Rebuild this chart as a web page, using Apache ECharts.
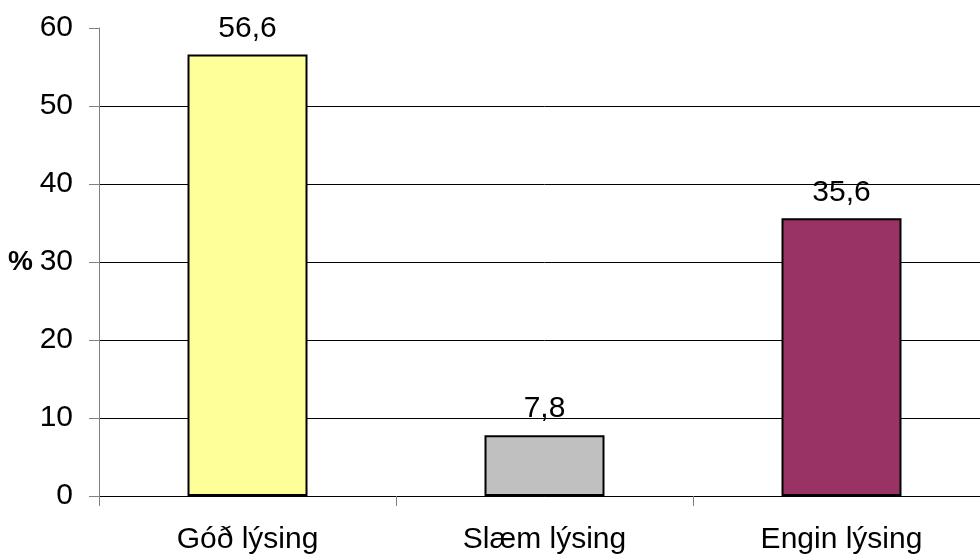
<!DOCTYPE html>
<html>
<head>
<meta charset="utf-8">
<script src="https://cdn.jsdelivr.net/npm/echarts@6/dist/echarts.min.js"></script>
<style>
  html, body { margin: 0; padding: 0; background: #fff; overflow: hidden; }
  /* the plot area continues slightly past the visible right edge */
  #chart { width: 990px; height: 560px; }
</style>
</head>
<body>
<div id="chart"></div>
<script>
// Lighting categories and their shares (%)
const categories = ['Góð lýsing', 'Slæm lýsing', 'Engin lýsing'];
const values = [56.6, 7.8, 35.6];
const barColors = ['#FFFF99', '#C0C0C0', '#993366'];
const yTicks = [0, 10, 20, 30, 40, 50, 60];

const FONT = '"Liberation Sans", Arial, sans-serif';

const chart = echarts.init(document.getElementById('chart'), null, { renderer: 'canvas' });

chart.setOption({
  animation: false,
  backgroundColor: '#ffffff',
  grid: { left: 99, top: 28, bottom: 64, right: 0, containLabel: false },
  xAxis: {
    type: 'category',
    data: categories,
    boundaryGap: true,
    axisLine: { show: true, lineStyle: { color: '#000', width: 1 } },
    axisTick: { show: true, alignWithLabel: false, length: 10, lineStyle: { color: '#808080' } },
    axisLabel: { color: '#000', fontFamily: FONT, fontSize: 30, margin: 29 },
    splitLine: { show: false }
  },
  yAxis: {
    type: 'value',
    min: yTicks[0],
    max: yTicks[yTicks.length - 1],
    interval: yTicks[1] - yTicks[0],
    name: '%',
    nameLocation: 'middle',
    nameRotate: 0,
    nameGap: 66,
    nameTextStyle: { color: '#000', fontFamily: FONT, fontSize: 28, fontWeight: 'bold' },
    axisLine: { show: true, lineStyle: { color: '#808080', width: 1 } },
    axisTick: { show: true, inside: false, length: 10, lineStyle: { color: '#808080' } },
    axisLabel: { color: '#000', fontFamily: FONT, fontSize: 30, margin: 26 },
    splitLine: { show: true, showMaxLine: false, lineStyle: { color: '#000', width: 1 } }
  },
  series: [{
    type: 'bar',
    data: values.map((v, i) => ({
      value: v,
      itemStyle: { color: barColors[i], borderColor: '#000', borderWidth: 2 }
    })),
    barWidth: 120,
    label: {
      show: true,
      position: 'top',
      distance: 11,
      color: '#000',
      fontFamily: FONT,
      fontSize: 30,
      formatter: p => String(p.value).replace('.', ',')
    }
  }]
});
</script>
</body>
</html>
